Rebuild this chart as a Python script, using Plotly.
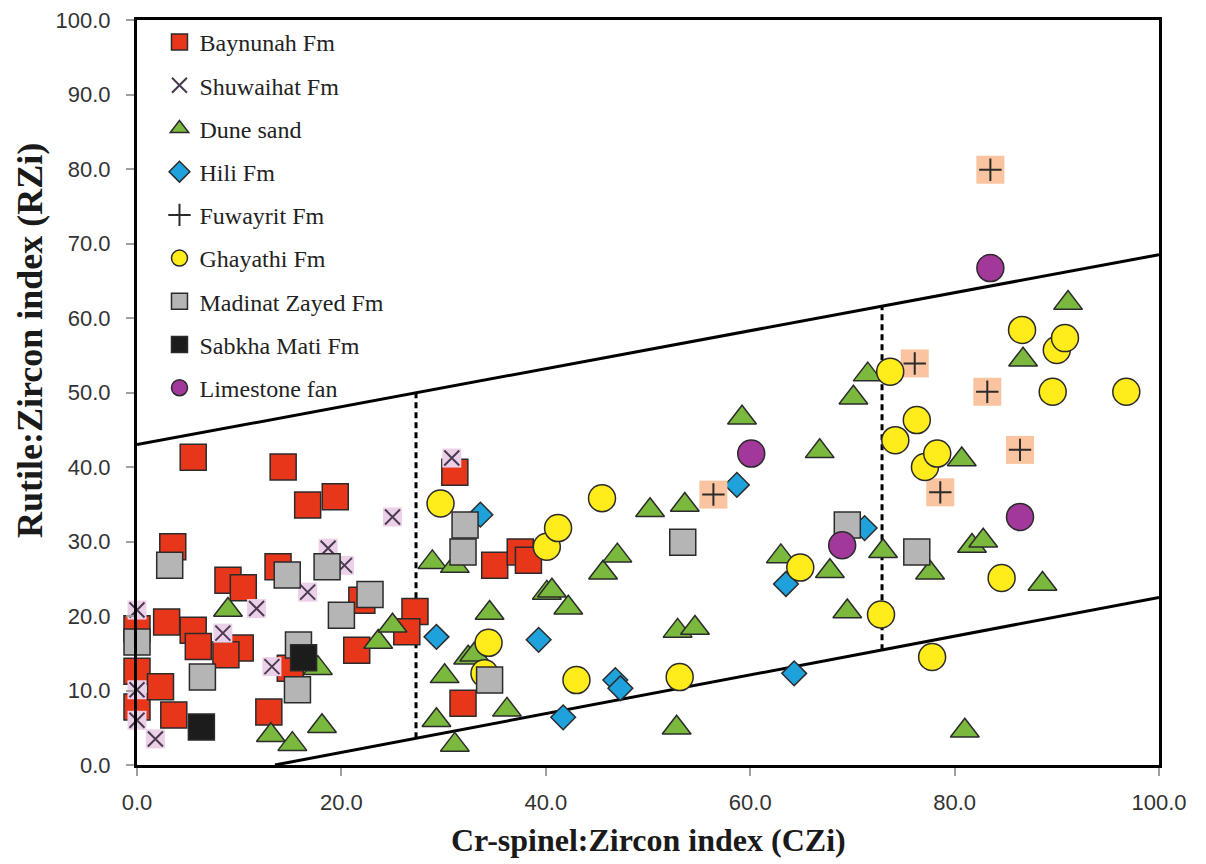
import plotly.graph_objects as go

# ---------------- data ----------------
baynunah_x = [5.5, 14.3, 16.7, 19.4, 3.5, 13.8, 8.9, 10.4, 2.9, 5.5, 6.0, 10.1, 8.7,
              0.0, 0.0, 0.0, 2.3, 3.6, 12.9, 15.0, 22.0, 21.5, 27.2, 26.4, 31.1,
              35.0, 37.5, 38.3, 31.9]
baynunah_y = [41.3, 40.0, 34.9, 36.0, 29.3, 26.6, 24.8, 23.8, 19.2, 18.1, 15.9, 15.7, 14.8,
              18.3, 12.6, 7.8, 10.5, 6.7, 7.1, 13.0, 22.1, 15.4, 20.6, 17.9, 39.3,
              26.8, 28.6, 27.5, 8.3]

shuwaihat_x = [0.0, 0.0, 0.0, 1.8, 8.4, 11.7, 13.2, 16.7, 18.7, 20.3, 25.0, 30.8]
shuwaihat_y = [20.8, 10.1, 6.0, 3.5, 17.7, 21.0, 13.2, 23.2, 29.1, 26.8, 33.3, 41.2]

dune_x = [8.9, 13.1, 15.2, 18.1, 17.7, 23.6, 25.0, 28.9, 31.1, 29.3, 30.1, 31.1, 32.4,
          33.0, 34.5, 36.2, 40.1, 40.6, 42.2, 45.6, 47.0, 50.2, 53.6, 52.9, 54.6, 52.8,
          59.2, 63.0, 66.8, 67.8, 69.5, 70.1, 71.5, 73.0, 77.6, 80.7, 81.7, 82.8, 81.0,
          86.7, 88.6, 91.1]
dune_y = [20.8, 4.0, 2.8, 5.2, 13.0, 16.5, 18.7, 27.2, 26.7, 6.0, 11.9, 2.7, 14.4,
          14.8, 20.4, 7.4, 23.1, 23.4, 21.1, 25.8, 28.1, 34.2, 34.9, 18.0, 18.4, 5.0,
          46.6, 28.0, 42.1, 26.0, 20.6, 49.3, 52.4, 28.7, 25.8, 41.0, 29.4, 30.1, 4.6,
          54.4, 24.3, 62.0]

hili_x = [29.3, 33.6, 39.3, 41.7, 46.8, 47.3, 58.7, 63.5, 64.3, 71.2]
hili_y = [17.2, 33.6, 16.8, 6.4, 11.4, 10.3, 37.6, 24.3, 12.3, 31.8]

fuwayrit_x = [56.4, 76.1, 83.5, 83.2, 86.4, 78.6]
fuwayrit_y = [36.3, 53.9, 79.9, 50.1, 42.3, 36.6]

ghayathi_x = [29.7, 34.4, 34.0, 40.1, 41.2, 43.0, 45.5, 53.1, 64.9, 72.8, 73.7, 74.2,
              76.3, 77.1, 78.3, 77.8, 84.6, 86.6, 90.0, 90.8, 89.6, 96.8]
ghayathi_y = [35.1, 16.4, 12.3, 29.3, 31.8, 11.4, 35.8, 11.8, 26.5, 20.2, 52.8, 43.6,
              46.3, 40.0, 41.8, 14.5, 25.1, 58.4, 55.7, 57.3, 50.1, 50.1]

madinat_x = [0.0, 3.2, 6.4, 14.7, 15.8, 15.7, 18.6, 20.0, 22.8, 32.1, 31.9, 34.5,
             53.4, 69.5, 76.3]
madinat_y = [16.5, 26.8, 11.8, 25.5, 16.1, 10.1, 26.6, 20.1, 22.9, 32.2, 28.6, 11.4,
             29.9, 32.2, 28.6]

sabkha_x = [6.3, 16.3]
sabkha_y = [5.1, 14.4]

limestone_x = [60.1, 69.0, 83.5, 86.4]
limestone_y = [41.8, 29.5, 66.7, 33.3]

# field boundaries
upper_x = [0.0, 100.0]
upper_y = [43.0, 68.5]
lower_x = [13.5, 100.0]
lower_y = [0.0, 22.5]
div1_x = [27.3, 27.3]
div1_y = [3.6, 50.0]
div2_x = [72.9, 72.9]
div2_y = [15.4, 61.6]

x_ticks = [0, 20, 40, 60, 80, 100]
y_ticks = [0, 10, 20, 30, 40, 50, 60, 70, 80, 90, 100]

x_title = "Cr-spinel:Zircon index (CZi)"
y_title = "Rutile:Zircon index (RZi)"

# ---------------- figure ----------------
fig = go.Figure()
EDGE = dict(color="#2b2b2b", width=1.5)

def line(x, y, dash="solid", width=3):
    fig.add_trace(go.Scatter(x=x, y=y, mode="lines", showlegend=False, hoverinfo="skip",
                             line=dict(color="black", width=width, dash=dash)))

line(upper_x, upper_y)
line(lower_x, lower_y)
line(div1_x, div1_y, dash="6px,4px", width=3)
line(div2_x, div2_y, dash="6px,4px", width=3)

def pts(x, y, name, symbol, color, size, line_=EDGE, show=True, group=None):
    fig.add_trace(go.Scatter(
        x=x, y=y, mode="markers", name=name, showlegend=show,
        legendgroup=group or name, cliponaxis=False,
        marker=dict(symbol=symbol, color=color, size=size, line=line_)))

pts(baynunah_x, baynunah_y, "Baynunah Fm", "square", "#e8361b", 26)
pts(shuwaihat_x, shuwaihat_y, "Shuwaihat bg", "square", "#ecd0e8", 19,
    line_=dict(width=0), show=False, group="Shuwaihat Fm")
pts(shuwaihat_x, shuwaihat_y, "Shuwaihat Fm", "x-thin", "#4a3a50", 15,
    line_=dict(color="#4a3a50", width=2))
pts(dune_x, dune_y, "Dune sand", "triangle-up", "#7ab83e", 25)
pts(hili_x, hili_y, "Hili Fm", "diamond", "#1fa2dc", 19)
pts(fuwayrit_x, fuwayrit_y, "Fuwayrit bg", "square", "#f9c49f", 28,
    line_=dict(width=0), show=False, group="Fuwayrit Fm")
pts(fuwayrit_x, fuwayrit_y, "Fuwayrit Fm", "cross-thin", "#2b2b2b", 16,
    line_=dict(color="#2b2b2b", width=2))
pts(ghayathi_x, ghayathi_y, "Ghayathi Fm", "circle", "#ffec1a", 27)
pts(madinat_x, madinat_y, "Madinat Zayed Fm", "square", "#b5b5b5", 26)
pts(sabkha_x, sabkha_y, "Sabkha Mati Fm", "square", "#1c1c1c", 26)
pts(limestone_x, limestone_y, "Limestone fan", "circle", "#a3389b", 27)

axis_common = dict(
    showgrid=False, zeroline=False, showline=True, mirror=True, automargin=False,
    linecolor="black", linewidth=3, ticks="outside", ticklen=8,
    tickcolor="#a0a0a0", tickwidth=1.5, tickformat=".1f", ticklabeloverflow="allow",
    tickfont=dict(family="Liberation Sans, Arial, sans-serif", size=22, color="#333333"),
)

fig.update_layout(
    width=1206, height=864,
    paper_bgcolor="white", plot_bgcolor="white",
    margin=dict(l=129, r=55, t=12, b=107, autoexpand=False),
    xaxis=dict(range=[0, 100], tickvals=x_ticks, ticklabelstandoff=8, **axis_common),
    yaxis=dict(range=[0, 100], tickvals=y_ticks, ticklabelstandoff=11, **axis_common),
    legend=dict(x=0.022, y=1.0, xanchor="left", yanchor="top",
                bgcolor="rgba(0,0,0,0)", tracegroupgap=9,
                font=dict(family="Liberation Serif, Times New Roman, serif", size=24, color="#222222")),
    annotations=[
        dict(text=f"<b>{x_title}</b>", xref="paper", yref="paper", x=0.5, y=-0.1,
             xanchor="center", yanchor="middle", showarrow=False,
             font=dict(family="Liberation Serif, Times New Roman, serif", size=32, color="#1a1a1a")),
        dict(text=f"<b>{y_title}</b>", xref="paper", yref="paper", x=-0.104, y=0.57,
             xanchor="center", yanchor="middle", showarrow=False, textangle=-90,
             font=dict(family="Liberation Serif, Times New Roman, serif", size=36, color="#1a1a1a")),
    ],
)

fig.write_html("out.html")
